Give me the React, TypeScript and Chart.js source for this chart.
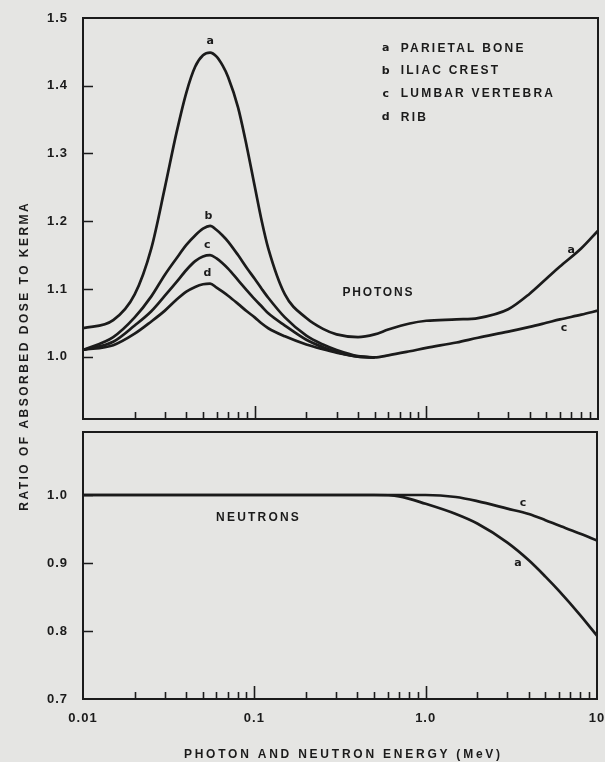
import React, { useEffect, useRef } from "react";
import { Chart, registerables } from "chart.js";
Chart.register(...registerables);

// ---------- data ----------
const photonEnergy = [0.01, 0.015, 0.02, 0.025, 0.03, 0.035, 0.04, 0.045, 0.05, 0.055, 0.06, 0.065, 0.07, 0.08, 0.09, 0.1, 0.11, 0.12, 0.15, 0.2, 0.25, 0.3, 0.4, 0.5, 0.6, 0.8, 1, 1.5, 2, 3, 4, 5, 6, 8, 10];
const photonParietal = [1.042, 1.054, 1.092, 1.16, 1.25, 1.33, 1.39, 1.428, 1.445, 1.449, 1.443, 1.43, 1.413, 1.368, 1.31, 1.252, 1.2, 1.16, 1.092, 1.057, 1.041, 1.033, 1.029, 1.033, 1.04, 1.049, 1.053, 1.055, 1.057, 1.07, 1.093, 1.115, 1.133, 1.16, 1.186];
const photonIliac = [1.01, 1.029, 1.058, 1.089, 1.121, 1.145, 1.165, 1.179, 1.189, 1.193, 1.187, 1.179, 1.17, 1.15, 1.131, 1.115, 1.1, 1.087, 1.058, 1.031, 1.018, 1.01, 1.001, 0.999, null, null, null, null, null, null, null, null, null, null, null];
const photonLumbar = [1.01, 1.022, 1.046, 1.067, 1.09, 1.11, 1.128, 1.141, 1.148, 1.15, 1.145, 1.138, 1.13, 1.113, 1.098, 1.085, 1.074, 1.064, 1.046, 1.025, 1.014, 1.007, 1.0, 0.999, 1.002, 1.008, 1.013, 1.021, 1.028, 1.037, 1.044, 1.05, 1.055, 1.062, 1.068];
const photonRib = [1.01, 1.017, 1.034, 1.052, 1.068, 1.084, 1.096, 1.103, 1.107, 1.108, 1.102, 1.096, 1.09, 1.078, 1.067, 1.058, 1.049, 1.042, 1.03, 1.018, 1.011, 1.006, 1.0, 0.999, null, null, null, null, null, null, null, null, null, null, null];

const neutronEnergy = [0.01, 0.1, 0.3, 0.5, 0.7, 1, 1.5, 2, 3, 4, 5, 6, 8, 10];
const neutronParietal = [1.0, 1.0, 1.0, 1.0, 0.998, 0.987, 0.972, 0.958, 0.93, 0.904, 0.88, 0.859, 0.823, 0.793];
const neutronLumbar = [1.0, 1.0, 1.0, 1.0, 1.0, 1.0, 0.997, 0.991, 0.98, 0.972, 0.963, 0.955, 0.943, 0.933];

const energyTicks = [0.01, 0.1, 1, 10];
const energyTickLabels = ["0.01", "0.1", "1.0", "10"];
const photonTicks = [1.0, 1.1, 1.2, 1.3, 1.4, 1.5];
const neutronTicks = [0.7, 0.8, 0.9, 1.0];

const tissueLetters = ["a", "b", "c", "d"];
const tissueNames = ["PARIETAL BONE", "ILIAC CREST", "LUMBAR VERTEBRA", "RIB"];
const xTitle = "PHOTON AND NEUTRON ENERGY (MeV)";
const yTitle = "RATIO OF ABSORBED DOSE TO KERMA";
const photonLabel = "PHOTONS";
const neutronLabel = "NEUTRONS";

// ---------- styling ----------
const INK = "#1b1b1b";
const BG = "#e5e5e3";
const TEXT_FONT = 'bold 12px "Liberation Sans", Arial, sans-serif';
const LETTER_FONT = 'bold 11px "DejaVu Sans", sans-serif';
const TICK_FONT = { family: '"Liberation Sans", Arial, sans-serif', size: 13, weight: "bold" as const };

type Note = { t: string; e: number; v: number; font?: string; align?: CanvasTextAlign; spacing?: number };

const lineStyle = {
  borderColor: INK,
  borderWidth: 2.7,
  pointRadius: 0,
  fill: false,
  cubicInterpolationMode: "monotone" as const,
  spanGaps: false,
};

function series(xs: number[], ys: (number | null)[]) {
  return xs.map((x, i) => ({ x, y: ys[i] }));
}

function drawText(ctx: CanvasRenderingContext2D, n: Note, x: number, y: number) {
  ctx.font = n.font || TEXT_FONT;
  ctx.letterSpacing = (n.spacing ?? 0) + "px";
  ctx.textAlign = n.align || "center";
  ctx.textBaseline = "middle";
  ctx.fillStyle = INK;
  ctx.fillText(n.t, x, y);
}

function fittedText(ctx: CanvasRenderingContext2D, text: string, font: string, width: number) {
  ctx.font = font;
  ctx.letterSpacing = "0px";
  const nat = ctx.measureText(text).width;
  const sp = (width - nat) / text.length;
  ctx.letterSpacing = sp + "px";
  return sp;
}

function zeroPad(s: any) {
  s.paddingTop = 0;
  s.paddingBottom = 0;
  s.paddingLeft = 0;
  s.paddingRight = 0;
}

function makeDecor(yTicks: number[], notes: Note[], extra?: (chart: any) => void) {
  return {
    id: "decor",
    beforeDraw(chart: any) {
      chart.ctx.letterSpacing = "1px";
    },
    afterDatasetsDraw(chart: any) {
      const { ctx, chartArea: a, scales } = chart;
      const xs = scales.x;
      const ys = scales.y;
      ctx.save();
      ctx.letterSpacing = "0px";
      ctx.strokeStyle = INK;
      ctx.lineWidth = 2;
      ctx.strokeRect(a.left, a.top, a.right - a.left, a.bottom - a.top);
      // inward ticks along the energy axis
      ctx.lineWidth = 1.6;
      ctx.beginPath();
      for (let k = 0; k < energyTicks.length - 1; k++) {
        const d = energyTicks[k];
        for (let m = 1; m <= 9; m++) {
          if (k === 0 && m === 1) continue;
          const px = Math.round(xs.getPixelForValue(d * m)) + 0.5;
          const len = m === 1 ? 13 : 7;
          ctx.moveTo(px, a.bottom);
          ctx.lineTo(px, a.bottom - len);
        }
      }
      // inward ticks along the ratio axis
      for (const v of yTicks) {
        const py = Math.round(ys.getPixelForValue(v)) + 0.5;
        if (py <= a.top + 2 || py >= a.bottom - 2) continue;
        ctx.moveTo(a.left, py);
        ctx.lineTo(a.left + 10, py);
      }
      ctx.stroke();
      for (const n of notes) {
        drawText(ctx, n, xs.getPixelForValue(n.e), ys.getPixelForValue(n.v));
      }
      if (extra) extra(chart);
      ctx.restore();
    },
    afterDraw(chart: any) {
      chart.ctx.letterSpacing = "0px";
    },
  };
}

const legendRows = [1.455, 1.422, 1.388, 1.353];

const photonNotes: Note[] = [
  { t: "a", e: 0.0551, v: 1.466, font: LETTER_FONT },
  { t: "b", e: 0.0537, v: 1.208, font: LETTER_FONT },
  { t: "c", e: 0.053, v: 1.164, font: LETTER_FONT },
  { t: "d", e: 0.053, v: 1.123, font: LETTER_FONT },
  { t: "a", e: 6.97, v: 1.158, font: LETTER_FONT },
  { t: "c", e: 6.34, v: 1.042, font: LETTER_FONT },
  { t: photonLabel, e: 0.325, v: 1.094, align: "left", spacing: 1.8 },
  ...tissueLetters.map((l, i) => ({ t: l, e: 0.58, v: legendRows[i], font: LETTER_FONT })),
  ...tissueNames.map((nm, i) => ({ t: nm, e: 0.71, v: legendRows[i], align: "left" as CanvasTextAlign, spacing: 2.2 })),
];

const neutronNotes: Note[] = [
  { t: neutronLabel, e: 0.0598, v: 0.966, align: "left", spacing: 2.2 },
  { t: "c", e: 3.7, v: 0.988, font: LETTER_FONT },
  { t: "a", e: 3.46, v: 0.9, font: LETTER_FONT },
];

export default function App() {
  const topRef = useRef<HTMLCanvasElement>(null);
  const botRef = useRef<HTMLCanvasElement>(null);

  useEffect(() => {
    const yTickCfg = (ticks: number[]) => ({
      afterBuildTicks: (s: any) => {
        s.ticks = ticks.map((v) => ({ value: v }));
      },
      afterFit: (s: any) => {
        s.width = 83;
        zeroPad(s);
      },
      grid: { display: false, drawTicks: false },
      border: { display: false },
      ticks: {
        font: TICK_FONT,
        color: INK,
        padding: 15,
        callback: (v: any) => Number(v).toFixed(1),
      },
    });

    const top = new Chart(topRef.current!, {
      type: "line",
      data: {
        datasets: [
          { label: tissueNames[0], data: series(photonEnergy, photonParietal), ...lineStyle },
          { label: tissueNames[1], data: series(photonEnergy, photonIliac), ...lineStyle },
          { label: tissueNames[2], data: series(photonEnergy, photonLumbar), ...lineStyle },
          { label: tissueNames[3], data: series(photonEnergy, photonRib), ...lineStyle },
        ],
      },
      options: {
        animation: false,
        responsive: false,
        devicePixelRatio: 1,
        layout: { padding: { top: 18, right: 7, bottom: 343, left: 0 } },
        plugins: { legend: { display: false }, tooltip: { enabled: false } },
        scales: {
          x: { type: "logarithmic", min: 0.01, max: 10, display: false, afterFit: zeroPad },
          y: { type: "linear", min: 0.908, max: 1.5, ...yTickCfg(photonTicks) },
        },
      } as any,
      plugins: [
        makeDecor(photonTicks, photonNotes, (chart: any) => {
          const ctx = chart.ctx as CanvasRenderingContext2D;
          ctx.save();
          const font = 'bold 12px "Liberation Sans", Arial, sans-serif';
          const sp = fittedText(ctx, yTitle, font, 310);
          ctx.translate(25, 357);
          ctx.rotate(-Math.PI / 2);
          ctx.textAlign = "center";
          ctx.textBaseline = "middle";
          ctx.fillStyle = INK;
          ctx.fillText(yTitle, sp / 2, 0);
          ctx.restore();
        }),
      ],
    });

    const bot = new Chart(botRef.current!, {
      type: "line",
      data: {
        datasets: [
          { label: tissueNames[0], data: series(neutronEnergy, neutronParietal), ...lineStyle },
          { label: tissueNames[2], data: series(neutronEnergy, neutronLumbar), ...lineStyle },
        ],
      },
      options: {
        animation: false,
        responsive: false,
        devicePixelRatio: 1,
        layout: { padding: { top: 7, right: 8, bottom: 0, left: 0 } },
        plugins: { legend: { display: false }, tooltip: { enabled: false } },
        scales: {
          x: {
            type: "logarithmic",
            min: 0.01,
            max: 10,
            afterBuildTicks: (s: any) => {
              s.ticks = energyTicks.map((v) => ({ value: v }));
            },
            afterFit: (s: any) => {
              s.height = 63;
              zeroPad(s);
            },
            grid: { display: false, drawTicks: false },
            border: { display: false },
            ticks: {
              font: TICK_FONT,
              color: INK,
              padding: 12,
              autoSkip: false,
              maxRotation: 0,
              minRotation: 0,
              callback: (_v: any, i: number) => energyTickLabels[i],
            },
          },
          y: { type: "linear", min: 0.7, max: 1.0926, ...yTickCfg(neutronTicks) },
        },
      } as any,
      plugins: [
        makeDecor(neutronTicks, neutronNotes, (chart: any) => {
          const ctx = chart.ctx as CanvasRenderingContext2D;
          ctx.save();
          const font = 'bold 12px "Liberation Sans", Arial, sans-serif';
          const sp = fittedText(ctx, xTitle, font, 319);
          ctx.textAlign = "center";
          ctx.textBaseline = "middle";
          ctx.fillStyle = INK;
          ctx.fillText(xTitle, 342 + sp / 2, 755 - 425);
          ctx.restore();
        }),
      ],
    });

    return () => {
      top.destroy();
      bot.destroy();
    };
  }, []);

  return (
    <div style={{ position: "absolute", left: 0, top: 0, width: 605, height: 762, background: BG, overflow: "hidden" }}>
      <canvas ref={topRef} width={605} height={762} style={{ position: "absolute", left: 0, top: 0 }} />
      <canvas ref={botRef} width={605} height={337} style={{ position: "absolute", left: 0, top: 425 }} />
    </div>
  );
}
